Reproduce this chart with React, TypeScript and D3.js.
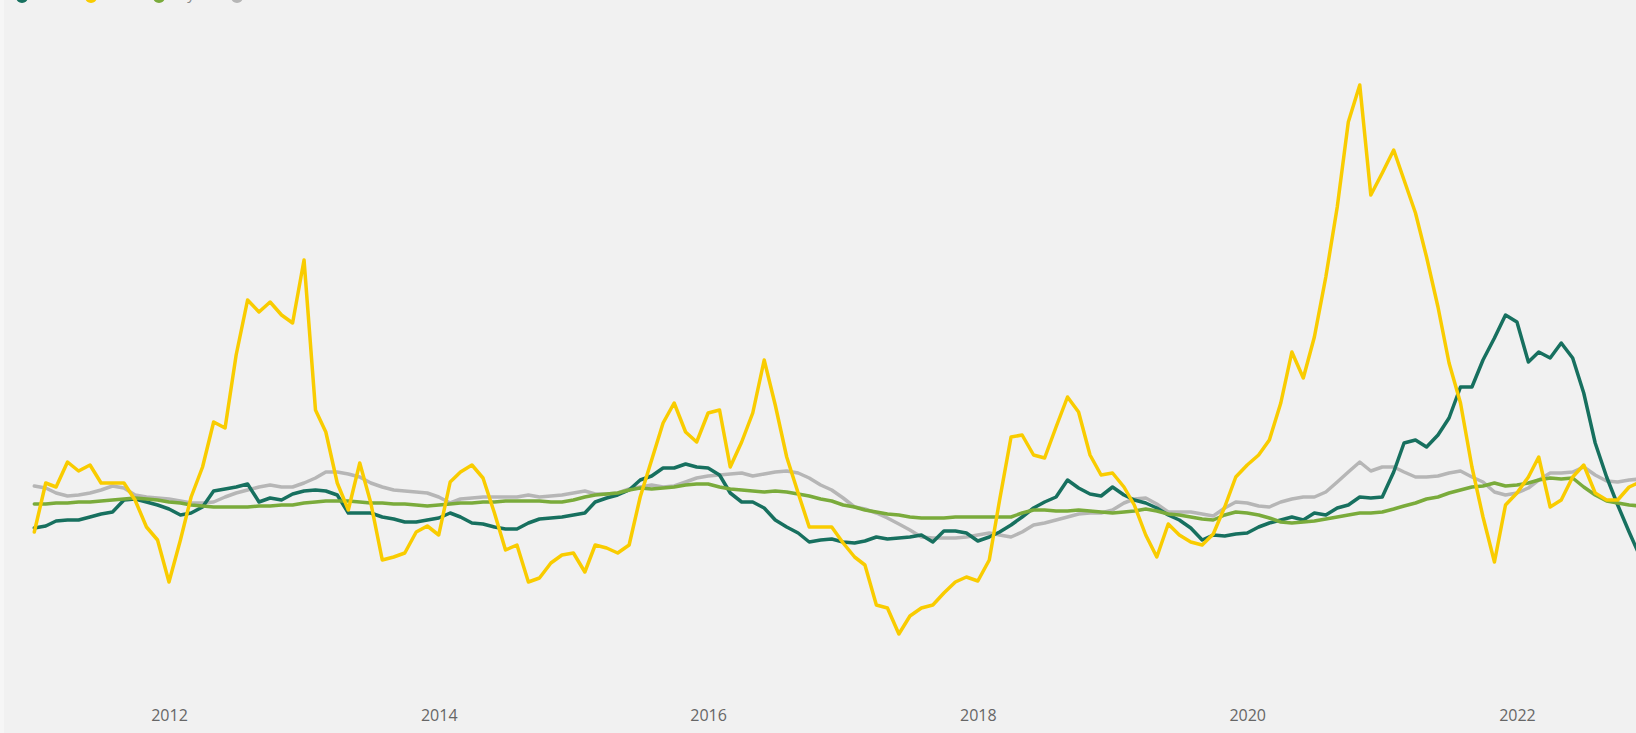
import { useEffect, useRef } from "react";
import * as d3 from "d3";

const width = 1636;
const height = 733;

const firstMonth = new Date(2011, 0, 1);
const yearTicks = [2012, 2014, 2016, 2018, 2020, 2022];
const legendLabels = ["Rice", "Corn", "Soya", "All commodities index"];

const teal = [
  19.2, 19.4, 19.9, 20.0, 20.0, 20.3, 20.6, 20.8, 22.0, 22.1,
  21.8, 21.5, 21.1, 20.5, 20.7, 21.3, 22.9, 23.1, 23.3, 23.6,
  21.8, 22.2, 22.0, 22.6, 22.9, 23.0, 22.9, 22.5, 20.7, 20.7,
  20.7, 20.3, 20.1, 19.8, 19.8, 20.0, 20.2, 20.7, 20.3, 19.7,
  19.6, 19.3, 19.1, 19.1, 19.7, 20.1, 20.2, 20.3, 20.5, 20.7,
  21.8, 22.2, 22.5, 23.0, 24.0, 24.4, 25.2, 25.2, 25.6, 25.3,
  25.2, 24.5, 22.7, 21.8, 21.8, 21.2, 20.0, 19.3, 18.7, 17.8,
  18.0, 18.1, 17.8, 17.7, 17.9, 18.3, 18.1, 18.2, 18.3, 18.5,
  17.8, 18.9, 18.9, 18.7, 17.9, 18.3, 18.8, 19.5, 20.3, 21.2,
  21.8, 22.3, 24.0, 23.2, 22.6, 22.4, 23.3, 22.5, 22.0, 21.7,
  21.2, 20.5, 20.0, 19.2, 18.0, 18.5, 18.4, 18.6, 18.7, 19.3,
  19.7, 20.0, 20.3, 20.0, 20.7, 20.5, 21.2, 21.5, 22.3, 22.2,
  22.3, 24.8, 27.7, 28.0, 27.3, 28.5, 30.2, 33.3, 33.3, 36.0,
  38.2, 40.5, 39.8, 35.8, 36.8, 36.2, 37.7, 36.2, 32.7, 27.7,
  24.3, 21.5, 18.8, 16.3,
];

const yellow = [
  18.8, 23.7, 23.3, 25.8, 24.9, 25.5, 23.7, 23.7, 23.7, 22.0,
  19.3, 18.0, 13.8, 18.0, 22.3, 25.3, 29.8, 29.2, 36.5, 42.0,
  40.8, 41.8, 40.5, 39.7, 46.0, 31.0, 28.8, 23.7, 21.0, 25.7,
  21.7, 16.0, 16.3, 16.7, 18.8, 19.4, 18.5, 23.8, 24.8, 25.5,
  24.2, 20.7, 17.0, 17.5, 13.8, 14.2, 15.7, 16.5, 16.7, 14.8,
  17.5, 17.2, 16.7, 17.5, 22.3, 26.0, 29.7, 31.7, 28.8, 27.8,
  30.7, 31.0, 25.3, 27.8, 30.7, 36.0, 31.5, 26.3, 22.7, 19.3,
  19.3, 19.3, 17.7, 16.3, 15.5, 11.5, 11.2, 8.6, 10.4, 11.2,
  11.5, 12.7, 13.8, 14.3, 13.9, 16.0, 22.0, 28.3, 28.5, 26.5,
  26.2, 29.3, 32.3, 30.8, 26.5, 24.5, 24.7, 23.3, 21.5, 18.5,
  16.3, 19.6, 18.5, 17.8, 17.5, 18.6, 21.3, 24.3, 25.5, 26.5,
  28.0, 31.7, 36.8, 34.2, 38.3, 44.3, 51.3, 59.8, 63.5, 52.5,
  54.7, 57.0, 54.0, 50.7, 46.3, 41.3, 35.7, 31.7, 25.3, 20.3,
  15.8, 21.5, 22.7, 24.3, 26.3, 21.3, 22.0, 24.3, 25.5, 22.7,
  22.0, 22.0, 23.3, 23.8,
];

const green = [
  21.6, 21.6, 21.7, 21.7, 21.8, 21.8, 21.9, 22.0, 22.1, 22.2,
  22.1, 22.0, 21.8, 21.7, 21.5, 21.4, 21.3, 21.3, 21.3, 21.3,
  21.4, 21.4, 21.5, 21.5, 21.7, 21.8, 21.9, 21.9, 21.9, 21.8,
  21.7, 21.7, 21.6, 21.6, 21.5, 21.4, 21.5, 21.6, 21.7, 21.7,
  21.8, 21.8, 21.9, 21.9, 21.9, 21.9, 21.8, 21.8, 22.0, 22.3,
  22.5, 22.6, 22.7, 23.0, 23.2, 23.1, 23.2, 23.3, 23.5, 23.6,
  23.6, 23.3, 23.1, 23.0, 22.9, 22.8, 22.9, 22.8, 22.6, 22.4,
  22.1, 21.9, 21.5, 21.3, 21.0, 20.8, 20.6, 20.5, 20.3, 20.2,
  20.2, 20.2, 20.3, 20.3, 20.3, 20.3, 20.3, 20.3, 20.7, 21.0,
  21.0, 20.9, 20.9, 21.0, 20.9, 20.8, 20.7, 20.8, 20.9, 21.1,
  20.9, 20.6, 20.5, 20.3, 20.1, 20.0, 20.5, 20.8, 20.7, 20.5,
  20.2, 19.8, 19.7, 19.8, 19.9, 20.1, 20.3, 20.5, 20.7, 20.7,
  20.8, 21.1, 21.4, 21.7, 22.1, 22.3, 22.7, 23.0, 23.3, 23.4,
  23.7, 23.4, 23.5, 23.7, 24.0, 24.2, 24.1, 24.2, 23.3, 22.5,
  21.9, 21.7, 21.5, 21.4,
];

const gray = [
  23.4, 23.2, 22.7, 22.4, 22.5, 22.7, 23.0, 23.4, 23.2, 22.5,
  22.3, 22.2, 22.1, 21.9, 21.7, 21.7, 21.8, 22.3, 22.7, 23.0,
  23.3, 23.5, 23.3, 23.3, 23.7, 24.2, 24.8, 24.8, 24.6, 24.3,
  23.7, 23.3, 23.0, 22.9, 22.8, 22.7, 22.3, 21.7, 22.1, 22.2,
  22.3, 22.3, 22.3, 22.3, 22.5, 22.3, 22.4, 22.5, 22.7, 22.9,
  22.6, 22.6, 22.7, 23.1, 23.3, 23.5, 23.3, 23.4, 23.8, 24.2,
  24.4, 24.5, 24.6, 24.7, 24.4, 24.6, 24.8, 24.9, 24.7, 24.2,
  23.5, 23.0, 22.2, 21.3, 21.1, 20.7, 20.2, 19.6, 19.0, 18.3,
  18.2, 18.2, 18.2, 18.3, 18.5, 18.7, 18.5, 18.3, 18.8, 19.5,
  19.7, 20.0, 20.3, 20.6, 20.7, 20.7, 21.0, 21.7, 22.1, 22.2,
  21.6, 20.8, 20.8, 20.8, 20.6, 20.4, 21.2, 21.8, 21.7, 21.4,
  21.3, 21.8, 22.1, 22.3, 22.3, 22.8, 23.8, 24.8, 25.8, 24.9,
  25.3, 25.3, 24.8, 24.3, 24.3, 24.4, 24.7, 24.9, 24.3, 23.8,
  22.8, 22.5, 22.7, 23.2, 24.0, 24.7, 24.7, 24.8, 25.3, 24.5,
  23.9, 23.8, 24.0, 24.1,
];

const colors = ["#17705f", "#f9cc00", "#7aab3b", "#b6b6b6"];

export default function App() {
  const axisRef = useRef<SVGGElement | null>(null);

  const months = teal.map((_, i) => d3.timeMonth.offset(firstMonth, i));
  const x = d3
    .scaleTime()
    .domain([firstMonth, months[months.length - 1]])
    .range([34.3, 1640.2]);
  const y = d3.scaleLinear().domain([0, 70]).range([720, 20]);

  const line = d3
    .line<number>()
    .x((_, i) => x(months[i]))
    .y((d) => y(d));

  useEffect(() => {
    document.body.style.margin = "0";
    document.body.style.overflow = "hidden";
    if (!axisRef.current) return;
    const g = d3.select(axisRef.current);
    g.selectAll("*").remove();
    g.call(
      d3
        .axisBottom(x)
        .tickValues(yearTicks.map((yr) => new Date(yr, 0, 1)))
        .tickFormat((d) => d3.timeFormat("%Y")(d as Date))
        .tickSize(0)
        .tickPadding(10)
    );
    g.select(".domain").remove();
    g.selectAll("text")
      .attr("fill", "#666666")
      .style("font-family", "'Open Sans', 'Liberation Sans', sans-serif")
      .style("font-size", "16px");
  }, []);

  // gray at the back, yellow on top
  const series = [
    { values: gray, color: colors[3] },
    { values: teal, color: colors[0] },
    { values: green, color: colors[2] },
    { values: yellow, color: colors[1] },
  ];

  const legendX = [22, 91, 159, 237];

  return (
    <svg
      width={width}
      height={height}
      style={{ position: "absolute", left: 0, top: 0, display: "block" }}
    >
      <rect x={0} y={0} width={width} height={height} fill="#f1f1f1" />
      <rect x={0} y={0} width={4} height={height} fill="#f6f6f6" />

      {/* legend sits above the top edge, only its lower rim shows */}
      <g>
        {legendLabels.map((label, i) => (
          <g key={label} transform={`translate(${legendX[i]},-3)`}>
            <circle r={6} fill={colors[i]} />
            <text
              x={11}
              y={2}
              fill="#8a8a8a"
              style={{ fontFamily: "'Open Sans', 'Liberation Sans', sans-serif", fontSize: 15 }}
            >
              {label}
            </text>
          </g>
        ))}
      </g>

      {series.map((s, i) => (
        <path
          key={i}
          d={line(s.values) || ""}
          fill="none"
          stroke={s.color}
          strokeWidth={3.5}
          strokeLinejoin="round"
          strokeLinecap="round"
        />
      ))}

      <g ref={axisRef} transform="translate(0,700)" />
    </svg>
  );
}
